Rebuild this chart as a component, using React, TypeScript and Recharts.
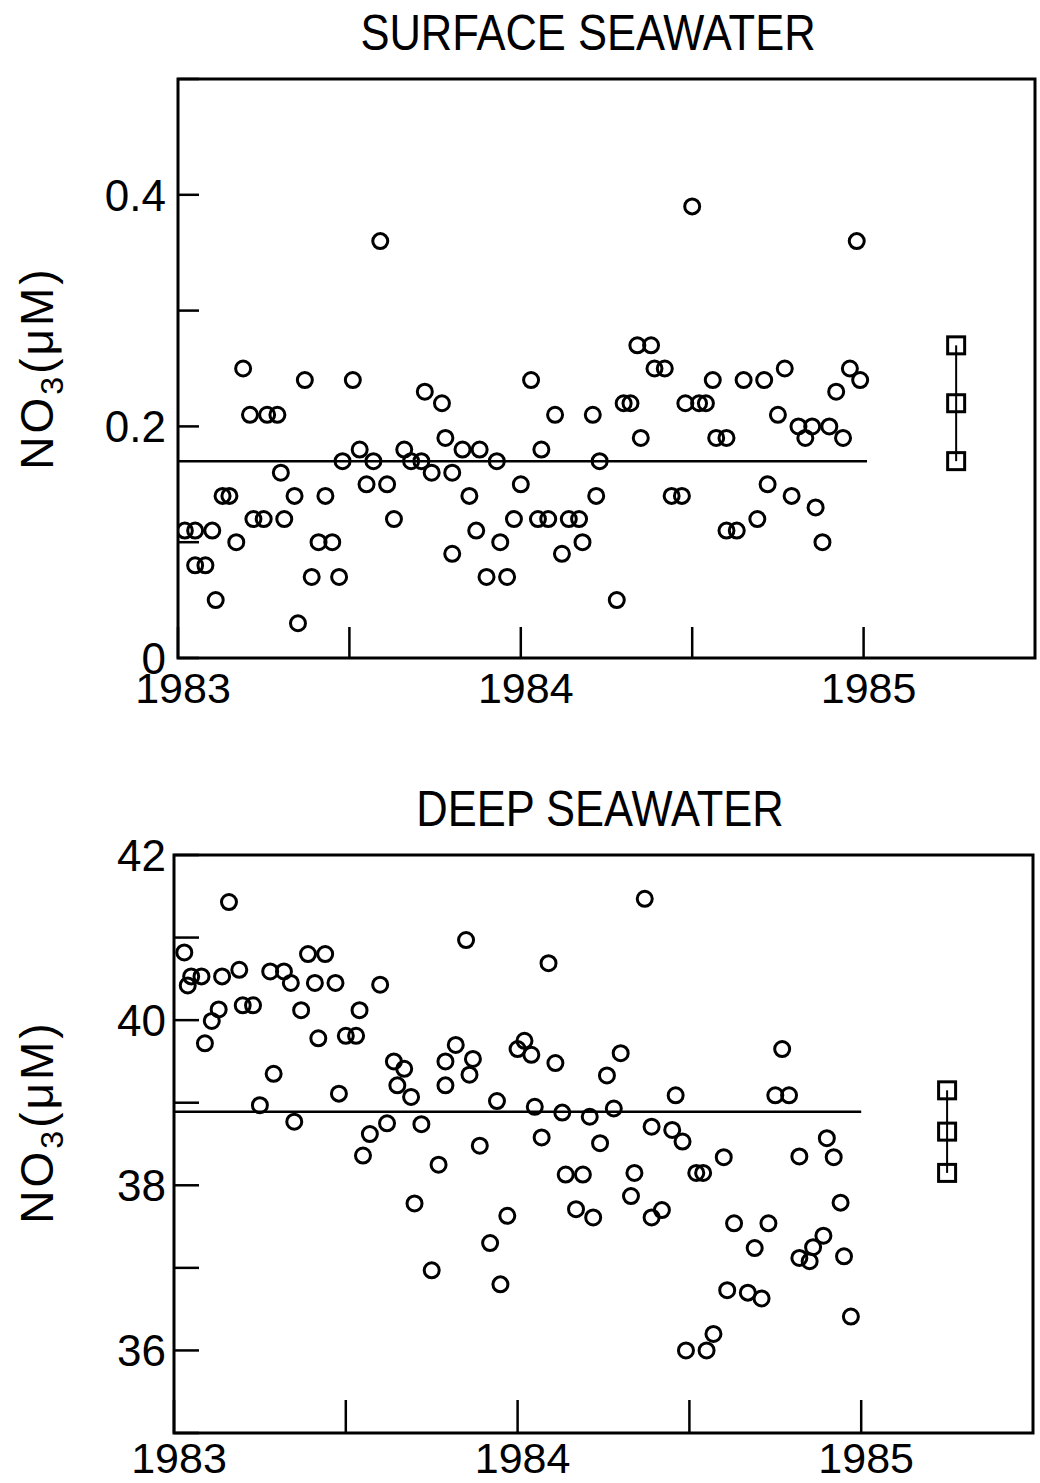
import React from 'react';
import { ScatterChart, Scatter, XAxis, YAxis, ReferenceArea } from 'recharts';

// ---------- data ----------
const surfaceDates = [
  1983.02, 1983.05, 1983.05, 1983.08, 1983.10, 1983.11, 1983.13, 1983.15, 1983.17, 1983.19,
  1983.21, 1983.22, 1983.25, 1983.26, 1983.29, 1983.30, 1983.31, 1983.34, 1983.35, 1983.37,
  1983.39, 1983.41, 1983.43, 1983.45, 1983.47, 1983.48, 1983.51, 1983.53, 1983.55, 1983.57,
  1983.59, 1983.61, 1983.63, 1983.66, 1983.68, 1983.71, 1983.72, 1983.74, 1983.77, 1983.78,
  1983.80, 1983.80, 1983.83, 1983.85, 1983.87, 1983.88, 1983.90, 1983.93, 1983.94, 1983.96,
  1983.98, 1984.00, 1984.03, 1984.05, 1984.06, 1984.08, 1984.10, 1984.12, 1984.14, 1984.17,
  1984.18, 1984.21, 1984.22, 1984.23, 1984.28, 1984.30, 1984.32, 1984.34, 1984.35, 1984.38,
  1984.39, 1984.42, 1984.44, 1984.47, 1984.48, 1984.50, 1984.52, 1984.54, 1984.56, 1984.57,
  1984.60, 1984.60, 1984.63, 1984.65, 1984.69, 1984.71, 1984.72, 1984.75, 1984.77, 1984.79,
  1984.81, 1984.83, 1984.85, 1984.86, 1984.88, 1984.90, 1984.92, 1984.94, 1984.96, 1984.98,
  1984.99,
];
const surfaceNO3 = [
  0.11, 0.11, 0.08, 0.08, 0.11, 0.05, 0.14, 0.14, 0.10, 0.25,
  0.21, 0.12, 0.12, 0.21, 0.21, 0.16, 0.12, 0.14, 0.03, 0.24,
  0.07, 0.10, 0.14, 0.10, 0.07, 0.17, 0.24, 0.18, 0.15, 0.17,
  0.36, 0.15, 0.12, 0.18, 0.17, 0.17, 0.23, 0.16, 0.22, 0.19,
  0.16, 0.09, 0.18, 0.14, 0.11, 0.18, 0.07, 0.17, 0.10, 0.07,
  0.12, 0.15, 0.24, 0.12, 0.18, 0.12, 0.21, 0.09, 0.12, 0.12,
  0.10, 0.21, 0.14, 0.17, 0.05, 0.22, 0.22, 0.27, 0.19, 0.27,
  0.25, 0.25, 0.14, 0.14, 0.22, 0.39, 0.22, 0.22, 0.24, 0.19,
  0.19, 0.11, 0.11, 0.24, 0.12, 0.24, 0.15, 0.21, 0.25, 0.14,
  0.20, 0.19, 0.20, 0.13, 0.10, 0.20, 0.23, 0.19, 0.25, 0.36,
  0.24,
];
const surfaceMean = 0.17;
const surfaceMeanSpan = [1983, 1985.01];
const surfaceSquareDate = 1985.27;
const surfaceSquareNO3 = [0.27, 0.22, 0.17];

const deepDates = [
  1983.03, 1983.04, 1983.05, 1983.08, 1983.09, 1983.11, 1983.13, 1983.14, 1983.16, 1983.19,
  1983.20, 1983.23, 1983.25, 1983.28, 1983.29, 1983.32, 1983.34, 1983.35, 1983.37, 1983.39,
  1983.41, 1983.42, 1983.44, 1983.47, 1983.48, 1983.50, 1983.53, 1983.54, 1983.55, 1983.57,
  1983.60, 1983.62, 1983.64, 1983.65, 1983.67, 1983.69, 1983.70, 1983.72, 1983.75, 1983.77,
  1983.79, 1983.79, 1983.82, 1983.85, 1983.86, 1983.87, 1983.89, 1983.92, 1983.94, 1983.95,
  1983.97, 1984.00, 1984.02, 1984.04, 1984.05, 1984.07, 1984.09, 1984.11, 1984.13, 1984.14,
  1984.17, 1984.19, 1984.21, 1984.22, 1984.24, 1984.26, 1984.28, 1984.30, 1984.33, 1984.34,
  1984.37, 1984.39, 1984.39, 1984.42, 1984.45, 1984.46, 1984.48, 1984.49, 1984.52, 1984.54,
  1984.55, 1984.57, 1984.60, 1984.61, 1984.63, 1984.67, 1984.69, 1984.71, 1984.73, 1984.75,
  1984.77, 1984.79, 1984.82, 1984.82, 1984.85, 1984.86, 1984.89, 1984.90, 1984.92, 1984.94,
  1984.95, 1984.97,
];
const deepNO3 = [
  40.82, 40.42, 40.53, 40.53, 39.72, 39.99, 40.13, 40.53, 41.43, 40.61,
  40.18, 40.18, 38.97, 40.59, 39.35, 40.59, 40.45, 38.77, 40.12, 40.80,
  40.45, 39.78, 40.80, 40.45, 39.11, 39.81, 39.81, 40.12, 38.36, 38.62,
  40.43, 38.75, 39.50, 39.21, 39.41, 39.07, 37.78, 38.74, 36.97, 38.25,
  39.21, 39.50, 39.70, 40.97, 39.34, 39.53, 38.48, 37.30, 39.02, 36.80,
  37.63, 39.65, 39.75, 39.58, 38.95, 38.58, 40.69, 39.48, 38.88, 38.13,
  37.71, 38.13, 38.83, 37.61, 38.51, 39.33, 38.93, 39.60, 37.87, 38.15,
  41.47, 38.71, 37.61, 37.70, 38.67, 39.09, 38.53, 36.00, 38.15, 38.15,
  36.00, 36.20, 38.34, 36.73, 37.54, 36.70, 37.24, 36.63, 37.54, 39.09,
  39.65, 39.09, 38.35, 37.12, 37.08, 37.25, 37.39, 38.57, 38.34, 37.79,
  37.14, 36.41,
];
const deepMean = 38.89;
const deepMeanSpan = [1983, 1985.0];
const deepSquareDate = 1985.25;
const deepSquareNO3 = [39.15, 38.65, 38.15];

const xTicks = [1983, 1983.5, 1984, 1984.5, 1985];
const xTickLabels = [1983, 1984, 1985];
const surfaceYTicks = [0, 0.1, 0.2, 0.3, 0.4, 0.5];
const surfaceYTickLabels = [0, 0.2, 0.4];
const deepYTicks = [35, 36, 37, 38, 39, 40, 41, 42];
const deepYTickLabels = [36, 38, 40, 42];

// ---------- built series ----------
const surfacePoints = surfaceDates.map((d, i) => ({ x: d, y: surfaceNO3[i] }));
const surfaceMeanLine = surfaceMeanSpan.map((d) => ({ x: d, y: surfaceMean }));
const surfaceSquares = surfaceSquareNO3.map((v) => ({ x: surfaceSquareDate, y: v }));
const deepPoints = deepDates.map((d, i) => ({ x: d, y: deepNO3[i] }));
const deepMeanLine = deepMeanSpan.map((d) => ({ x: d, y: deepMean }));
const deepSquares = deepSquareNO3.map((v) => ({ x: deepSquareDate, y: v }));

const FONT = '"Liberation Sans", Arial, Helvetica, sans-serif';

const Circle = (props: any) => {
  const { cx, cy } = props;
  if (cx == null || cy == null) return <g />;
  return <circle cx={cx} cy={cy} r={7.5} fill="none" stroke="#000" strokeWidth={3} />;
};
const Square = (props: any) => {
  const { cx, cy } = props;
  if (cx == null || cy == null) return <g />;
  return <rect x={cx - 8.5} y={cy - 8.5} width={17} height={17} fill="none" stroke="#000" strokeWidth={3} />;
};
const NoShape = () => <g />;

const makeXTick = (len: number, labelDy: number) => (props: any) => {
  const { x, y, payload } = props;
  const v = payload.value;
  const lab = xTickLabels.find((l) => Math.abs(l - v) < 1e-6);
  return (
    <g>
      <line x1={x} y1={y} x2={x} y2={y - len} stroke="#000" strokeWidth={2.5} />
      {lab !== undefined && (
        <text x={x + 5} y={y + labelDy} textAnchor="middle" fontSize={43} fontFamily={FONT} fill="#000">
          {String(lab)}
        </text>
      )}
    </g>
  );
};

const makeYTick = (len: number, labels: number[], gap: number) => (props: any) => {
  const { x, y, payload } = props;
  const v = payload.value;
  const lab = labels.find((l) => Math.abs(l - v) < 1e-6);
  return (
    <g>
      <line x1={x} y1={y} x2={x + len} y2={y} stroke="#000" strokeWidth={2.5} />
      {lab !== undefined && (
        <text x={x - gap} y={y + 16} textAnchor="end" fontSize={44} fontFamily={FONT} fill="#000">
          {String(lab)}
        </text>
      )}
    </g>
  );
};

const YLabel = ({ cx, cy }: { cx: number; cy: number }) => (
  <text
    transform={`translate(${cx},${cy}) rotate(-90)`}
    textAnchor="middle"
    fontSize={46}
    fontFamily={FONT}
    fill="#000"
    letterSpacing={3}
  >
    NO
    <tspan fontSize={32} dy={10}>3</tspan>
    <tspan dy={-10}>(μM)</tspan>
  </text>
);

export default function App() {
  return (
    <div style={{ position: 'absolute', left: 0, top: 0, width: 1040, height: 1483, background: '#fff' }}>
      <div style={{ position: 'absolute', left: 0, top: 0 }}>
        <ScatterChart width={1040} height={720} margin={{ top: 79, right: 5, bottom: 0, left: 78 }}>
          <XAxis
            type="number"
            dataKey="x"
            domain={[1983, 1985.5]}
            ticks={xTicks}
            interval={0}
            allowDataOverflow
            height={62}
            tickSize={0}
            tickMargin={0}
            axisLine={false}
            tickLine={false}
            tick={makeXTick(31, 45)}
          />
          <YAxis
            type="number"
            dataKey="y"
            domain={[0, 0.5]}
            ticks={surfaceYTicks}
            interval={0}
            allowDataOverflow
            width={100}
            tickSize={0}
            tickMargin={0}
            axisLine={false}
            tickLine={false}
            tick={makeYTick(21, surfaceYTickLabels, 12)}
          />
          <ReferenceArea x1={1983} x2={1985.5} y1={0} y2={0.5} fill="none" stroke="#000" strokeWidth={3} ifOverflow="visible" />
          <Scatter data={surfaceMeanLine} line={{ stroke: '#000', strokeWidth: 2.5 }} shape={NoShape} isAnimationActive={false} />
          <Scatter data={surfaceSquares} line={{ stroke: '#000', strokeWidth: 2 }} shape={Square} isAnimationActive={false} />
          <Scatter data={surfacePoints} shape={Circle} isAnimationActive={false} />
        </ScatterChart>
      </div>
      <div style={{ position: 'absolute', left: 0, top: 760 }}>
        <ScatterChart width={1040} height={723} margin={{ top: 95, right: 7, bottom: 0, left: 74 }}>
          <XAxis
            type="number"
            dataKey="x"
            domain={[1983, 1985.5]}
            ticks={xTicks}
            interval={0}
            allowDataOverflow
            height={50}
            tickSize={0}
            tickMargin={0}
            axisLine={false}
            tickLine={false}
            tick={makeXTick(33, 40)}
          />
          <YAxis
            type="number"
            dataKey="y"
            domain={[35, 42]}
            ticks={deepYTicks}
            interval={0}
            allowDataOverflow
            width={100}
            tickSize={0}
            tickMargin={0}
            axisLine={false}
            tickLine={false}
            tick={makeYTick(25, deepYTickLabels, 8)}
          />
          <ReferenceArea x1={1983} x2={1985.5} y1={35} y2={42} fill="none" stroke="#000" strokeWidth={3} ifOverflow="visible" />
          <Scatter data={deepMeanLine} line={{ stroke: '#000', strokeWidth: 2.5 }} shape={NoShape} isAnimationActive={false} />
          <Scatter data={deepSquares} line={{ stroke: '#000', strokeWidth: 2 }} shape={Square} isAnimationActive={false} />
          <Scatter data={deepPoints} shape={Circle} isAnimationActive={false} />
        </ScatterChart>
      </div>
      <svg width={1040} height={1483} style={{ position: 'absolute', left: 0, top: 0, pointerEvents: 'none' }}>
        <text transform="translate(588,50) scale(0.87,1)" textAnchor="middle" fontSize={50} fontFamily={FONT} fill="#000">
          SURFACE SEAWATER
        </text>
        <text transform="translate(600,826) scale(0.87,1)" textAnchor="middle" fontSize={50} fontFamily={FONT} fill="#000">
          DEEP SEAWATER
        </text>
        <YLabel cx={53} cy={368} />
        <YLabel cx={53} cy={1122} />
      </svg>
    </div>
  );
}
